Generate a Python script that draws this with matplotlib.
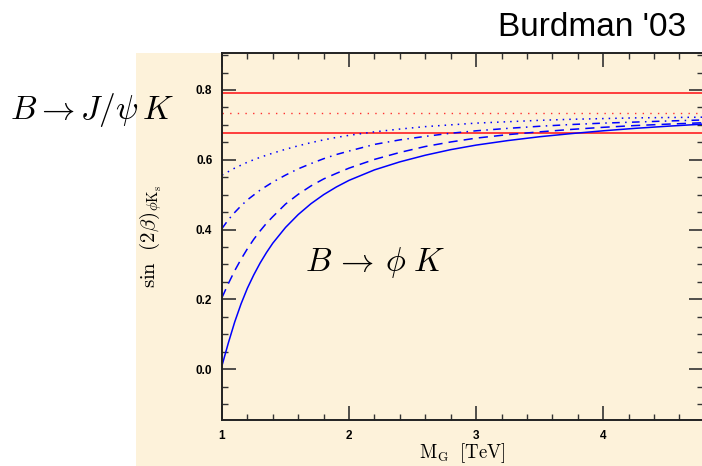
import matplotlib
matplotlib.use("Agg")
import matplotlib.pyplot as plt
from matplotlib.patches import Rectangle
from matplotlib.ticker import MultipleLocator
import numpy as np

plt.rcParams["mathtext.fontset"] = "cm"

# curves (M_G in TeV, sin 2beta)
m_solid = [1.00, 1.05, 1.10, 1.15, 1.20, 1.25, 1.30, 1.35, 1.40, 1.50, 1.60, 1.70, 1.80, 1.90, 2.00,
           2.20, 2.40, 2.60, 2.80, 3.00, 3.25, 3.50, 3.75, 4.00, 4.25, 4.50, 4.78]
s_solid = [0.010, 0.075, 0.135, 0.187, 0.232, 0.270, 0.304, 0.334, 0.361, 0.406, 0.443, 0.474, 0.500, 0.522, 0.541,
           0.571, 0.594, 0.613, 0.629, 0.642, 0.655, 0.666, 0.675, 0.683, 0.690, 0.696, 0.702]

m_dash = [1.00, 1.05, 1.10, 1.15, 1.20, 1.25, 1.30, 1.35, 1.40, 1.50, 1.60, 1.70, 1.80, 1.90, 2.00,
          2.20, 2.40, 2.60, 2.80, 3.00, 3.25, 3.50, 3.75, 4.00, 4.25, 4.50, 4.78]
s_dash = [0.205, 0.245, 0.282, 0.315, 0.345, 0.372, 0.396, 0.418, 0.437, 0.473, 0.501, 0.525, 0.545, 0.561, 0.576,
          0.601, 0.621, 0.638, 0.651, 0.662, 0.672, 0.680, 0.687, 0.693, 0.698, 0.702, 0.706]

m_dashdot = [1.00, 1.05, 1.10, 1.15, 1.20, 1.30, 1.40, 1.50, 1.60, 1.70, 1.80, 1.90, 2.00,
             2.20, 2.40, 2.60, 2.80, 3.00, 3.25, 3.50, 3.75, 4.00, 4.25, 4.50, 4.78]
s_dashdot = [0.403, 0.428, 0.449, 0.468, 0.485, 0.513, 0.536, 0.556, 0.574, 0.589, 0.603, 0.615, 0.625,
             0.644, 0.657, 0.667, 0.676, 0.683, 0.690, 0.696, 0.701, 0.705, 0.708, 0.711, 0.714]

m_dot = [1.00, 1.10, 1.20, 1.30, 1.40, 1.50, 1.60, 1.70, 1.80, 1.90, 2.00,
         2.20, 2.40, 2.60, 2.80, 3.00, 3.25, 3.50, 3.75, 4.00, 4.25, 4.50, 4.78]
s_dot = [0.556, 0.576, 0.593, 0.607, 0.619, 0.630, 0.640, 0.649, 0.657, 0.664, 0.670,
         0.680, 0.688, 0.695, 0.700, 0.705, 0.709, 0.713, 0.716, 0.718, 0.720, 0.721, 0.722]

# J/psi K band
jpsi_hi = 0.790
jpsi_mid = 0.734
jpsi_lo = 0.677

beige = "#fdf2da"

fig = plt.figure(figsize=(7.02, 4.66), dpi=100)
fig.patch.set_facecolor("white")
bg = Rectangle((136/702, 0), 1 - 136/702, 1 - 53/466,
               transform=fig.transFigure, facecolor=beige,
               edgecolor="none", zorder=-10)
fig.add_artist(bg)

ax = fig.add_axes([222/702, 46/466, 481/702, 367/466])
ax.set_facecolor(beige)

ax.axhline(jpsi_hi, color="#ff3030", lw=1.3)
ax.axhline(jpsi_lo, color="#ff3030", lw=1.3)
ax.axhline(jpsi_mid, color="#ff3030", lw=1.0, linestyle=(0, (1, 4.5)))

blue = "#0000ff"
ax.plot(m_solid, s_solid, color=blue, lw=1.1)
ax.plot(m_dash, s_dash, color=blue, lw=1.1, linestyle=(0, (6, 4)))
ax.plot(m_dashdot, s_dashdot, color=blue, lw=1.1, linestyle=(0, (5, 3.5, 1, 3.5)))
ax.plot(m_dot, s_dot, color=blue, lw=1.1, linestyle=(0, (1, 3.3)))

ax.set_xlim(1, 4.785)
ax.set_ylim(-0.146, 0.906)

ax.xaxis.set_minor_locator(MultipleLocator(0.2))
ax.yaxis.set_minor_locator(MultipleLocator(0.05))
ax.set_xticks([1, 2, 3, 4])
ax.set_xticklabels(["1", "2", "3", "4"])
ax.set_yticks([0.0, 0.2, 0.4, 0.6, 0.8])
ax.set_yticklabels(["0.0", "0.2", "0.4", "0.6", "0.8"])

ax.tick_params(which="both", direction="in", top=True, right=True,
               color="#333333", labelsize=8.5, pad=7)
ax.tick_params(which="major", length=10, width=1.2)
ax.tick_params(which="minor", length=4.5, width=1.0)
for lab in ax.get_xticklabels() + ax.get_yticklabels():
    lab.set_fontfamily("Liberation Sans")
    lab.set_fontweight("bold")

for sp in ax.spines.values():
    sp.set_color("#222222")
    sp.set_linewidth(1.4)

ax.set_xlabel(r"$\mathrm{M_G\ \ [TeV]}$", fontsize=13.5)
ax.xaxis.set_label_coords(0.5, -0.058)
ax.set_ylabel(r"$\mathrm{sin}\ \ (2\beta)_{\phi\mathrm{K_s}}$", fontsize=15)
ax.yaxis.set_label_coords(-0.12, 0.5)

fig.text(10/702, 1 - 110/466, r"$B\rightarrow J/\psi\, K$", fontsize=24,
         va="center", ha="left")
fig.text(305/702, 1 - 263/466, r"$B\,\rightarrow\,\phi\;K$", fontsize=24,
         va="center", ha="left")
fig.text(686/702, 1 - 28/466, "Burdman '03", fontsize=24,
         family="Liberation Sans", ha="right", va="center")

fig.savefig("out.png", dpi=100)
